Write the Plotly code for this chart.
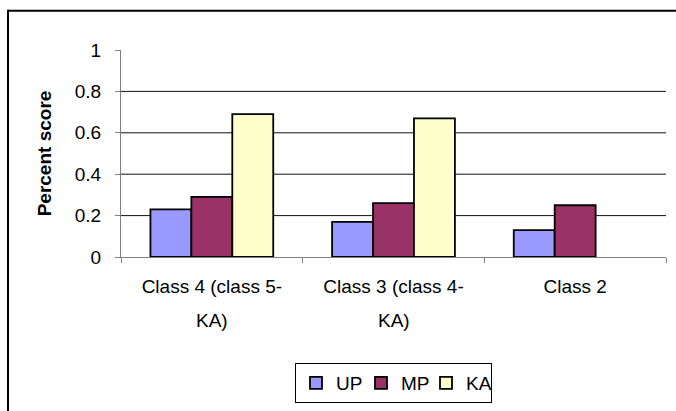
import plotly.graph_objects as go

categories = ["Class 4 (class 5-KA)", "Class 3 (class 4-KA)", "Class 2"]
label_line1 = ["Class 4 (class 5-", "Class 3 (class 4-", "Class 2"]
label_line2 = ["KA)", "KA)", ""]
series_names = ["UP", "MP", "KA"]
up_values = [0.23, 0.17, 0.13]
mp_values = [0.29, 0.26, 0.25]
ka_values = [0.69, 0.67, None]
y_ticks = [0, 0.2, 0.4, 0.6, 0.8, 1]
y_tick_labels = ["0", "0.2", "0.4", "0.6", "0.8", "1"]
colors = ["#9999FF", "#993366", "#FFFFCC"]

FONT = "Liberation Sans, Arial, sans-serif"
W, H = 676, 411
ML, MR, MT, MB = 121, 10, 50, 153
PW, PH = W - ML - MR, H - MT - MB

def px_x(px):
    return (px - ML) / PW

def px_y(py):
    return (H - MB - py) / PH

fig = go.Figure()
for name, vals, col in zip(series_names, [up_values, mp_values, ka_values], colors):
    fig.add_trace(go.Bar(
        name=name, x=categories, y=vals,
        marker=dict(color=col, line=dict(color="black", width=1.8)),
    ))

shapes = []
for t in y_ticks[1:-1]:
    shapes.append(dict(type="line", xref="paper", yref="y", x0=0, x1=1, y0=t, y1=t,
                       line=dict(color="#111111", width=1), layer="below"))
# outer chart frame (top and left edges visible in the reference)
shapes.append(dict(type="line", xref="paper", yref="paper",
                   x0=px_x(8), x1=px_x(700), y0=px_y(10.5), y1=px_y(10.5),
                   line=dict(color="black", width=2)))
shapes.append(dict(type="line", xref="paper", yref="paper",
                   x0=px_x(8), x1=px_x(8), y0=px_y(9.5), y1=px_y(450),
                   line=dict(color="black", width=2)))

annotations = []
for cat, l2 in zip(categories, label_line2):
    if l2:
        annotations.append(dict(x=cat, xref="x", y=px_y(309), yref="paper",
                                yanchor="top", xanchor="center", showarrow=False,
                                text=l2, font=dict(family=FONT, size=19, color="black")))

fig.update_layout(
    width=W, height=H,
    margin=dict(l=ML, r=MR, t=MT, b=MB),
    paper_bgcolor="white", plot_bgcolor="white",
    barmode="group", bargap=0.324, bargroupgap=0,
    font=dict(family=FONT, size=19, color="black"),
    shapes=shapes, annotations=annotations,
    showlegend=True,
    legend=dict(orientation="h", x=0.5, xanchor="center", y=px_y(363), yanchor="top",
                bordercolor="black", borderwidth=1, font=dict(family=FONT, size=19),
                traceorder="normal", entrywidth=20, entrywidthmode="pixels"),
)
fig.update_xaxes(
    tickvals=categories, ticktext=label_line1,
    showline=True, linecolor="#808080", linewidth=1,
    ticks="outside", tickson="boundaries", ticklen=5, tickcolor="#808080",
    showgrid=False, ticklabelstandoff=12,
    tickfont=dict(family=FONT, size=19, color="black"),
)
fig.update_yaxes(
    range=[0, 1], tickvals=y_ticks, ticktext=y_tick_labels,
    showline=True, linecolor="#808080", linewidth=1,
    ticks="outside", ticklen=5, tickcolor="#808080",
    showgrid=False, zeroline=False, ticklabelstandoff=10,
    tickfont=dict(family=FONT, size=19, color="black"),
    title=dict(text="<b>Percent score</b>", font=dict(family=FONT, size=19, color="black"), standoff=18),
)
fig.write_html("out.html", config={"displayModeBar": False},
               post_script="document.body.style.margin='0';document.body.style.overflow='hidden';")
